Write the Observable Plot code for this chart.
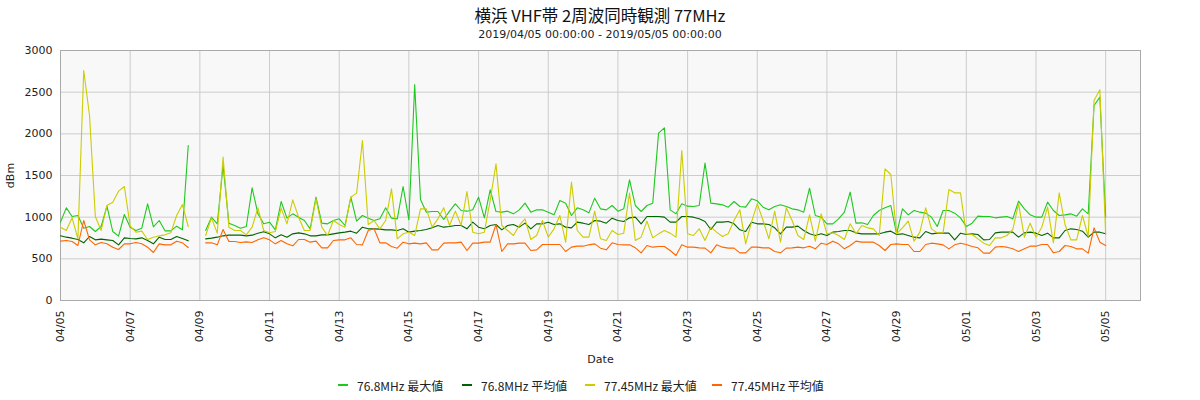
<!DOCTYPE html>
<html>
<head>
<meta charset="utf-8">
<script src="https://cdn.jsdelivr.net/npm/d3@7"></script>
<script src="https://cdn.jsdelivr.net/npm/@observablehq/plot@0.6"></script>
<style>
  html, body { margin: 0; padding: 0; background: #fff; }
  #wrap { position: relative; width: 1200px; height: 400px; overflow: hidden; }
  #title { position: absolute; left: 0; top: 4px; width: 1200px; text-align: center;
    font-family: "Noto Sans CJK JP", sans-serif; font-size: 16.5px; line-height: 22px; color: #111; }
  #subtitle { position: absolute; left: 0; top: 28px; width: 1200px; text-align: center;
    font-family: "DejaVu Sans", sans-serif; font-size: 11px; line-height: 14px; color: #222; }
  #chart { position: absolute; left: 0; top: 45px; }
  #legend { position: absolute; left: 0; top: 370px; width: 1200px; height: 30px; }
  .item { position: absolute; top: 0; height: 30px; display: flex; align-items: center;
    font-family: "Noto Sans CJK JP", sans-serif; font-size: 12px; color: #222; white-space: nowrap; }
  .sw { display: inline-block; width: 10px; height: 2px; margin-right: 9px; }
</style>
</head>
<body>
<div id="wrap">
  <div id="title"></div>
  <div id="subtitle"></div>
  <div id="chart"></div>
  <div id="legend"></div>
</div>
<script>
const titleText = "横浜 VHF帯 2周波同時観測 77MHz";
const subtitleText = "2019/04/05 00:00:00 - 2019/05/05 00:00:00";

// Sampling: every 4 hours starting 2019-04-05 00:00
const startTime = Date.UTC(2019, 3, 5);
const stepHours = 4;

const seriesNames = ["76.8MHz 最大値", "76.8MHz 平均値", "77.45MHz 最大値", "77.45MHz 平均値"];
const seriesColors = ["#1ec81e", "#006400", "#cccc00", "#ff6600"];

const max768 = [940,1112,1008,1020,868,888,828,888,1132,828,772,1032,880,840,868,1160,884,960,836,836,892,848,1860,
  null,null,
  840,1000,920,1620,928,900,868,888,1352,1040,920,940,848,1188,988,1040,1000,960,860,1240,928,920,960,980,900,1240,
  952,1020,988,960,980,1112,988,980,1368,
  968,2590,1212,1060,1068,1068,972,1072,1160,1080,1072,1088,1240,992,1328,1068,1060,1072,1040,1088,1168,1060,1088,1088,1060,1028,1200,1168,1020,1112,1088,
  1052,1228,1100,1088,1140,1072,1100,1448,1140,1068,1140,1168,2008,2072,1088,1040,1160,1132,1128,1140,1648,1168,1160,1148,1120,1188,1128,1120,1220,1196,
  1120,1088,1128,1148,1128,1100,1088,1060,1348,1020,1000,920,920,980,1060,1300,928,932,912,1020,1080,1112,1140,800,1100,1028,1080,1060,1048,1000,
  888,1080,1080,1048,992,888,928,1012,1008,1008,992,1000,1008,980,1192,1100,1028,1000,1000,1180,1080,1020,1028,1040,1012,1100,1040,2340,2440,1000];

const avg768 = [776,760,748,732,692,768,728,736,728,720,668,752,744,740,752,720,680,760,732,732,768,744,716,
  null,null,
  740,748,760,776,784,784,784,776,784,808,824,800,752,788,760,800,812,800,776,776,788,788,800,812,820,832,808,
  880,860,860,856,848,848,840,860,
  820,832,840,852,872,900,880,888,900,900,860,940,880,860,900,912,848,900,912,880,928,860,920,920,940,912,920,880,872,940,928,
  912,960,952,928,988,960,948,992,1000,920,1008,1008,1008,1000,940,940,1008,1008,1000,980,948,852,940,940,948,920,848,828,940,920,
  920,912,872,800,880,880,892,840,800,780,800,780,820,828,840,840,812,800,800,800,800,820,832,792,800,780,760,752,828,800,
  808,808,808,728,808,792,800,792,728,732,812,820,820,820,760,812,820,808,780,808,752,752,840,860,852,832,760,820,820,800];

const max7745 = [880,840,992,740,2760,2220,1008,840,1140,1180,1312,1368,892,820,832,732,760,776,788,812,1020,1152,888,
  null,null,
  780,992,808,1720,880,840,840,788,880,1112,840,812,828,1108,920,1208,1000,840,840,1220,880,780,960,912,880,1240,
  1288,1920,912,960,860,960,1340,740,800,
  820,780,1100,1100,880,980,1112,900,1072,900,1308,820,800,820,1200,1640,900,840,780,900,980,732,780,960,760,860,1020,700,1420,840,760,
  760,1072,740,720,840,792,808,1288,720,760,952,752,800,840,808,760,1800,800,780,860,720,880,820,768,800,960,1088,680,940,1160,
  960,740,1072,700,1112,960,780,732,1028,712,1040,800,812,780,732,920,800,900,872,860,780,1580,1512,800,872,952,712,820,1112,860,
  812,812,1332,1292,1292,800,792,740,688,660,752,752,780,852,1160,760,928,760,880,1120,692,1292,912,728,728,1020,768,2400,2528,792];

const avg7745 = [712,720,708,660,960,728,668,696,680,640,612,680,680,696,680,640,576,680,668,668,712,692,636,
  null,null,
  692,692,668,852,708,708,696,704,696,728,752,728,680,720,680,656,732,732,700,712,632,632,720,728,728,752,672,668,
  840,860,692,692,648,628,700,
  680,688,680,692,608,608,688,692,692,700,600,688,688,700,700,912,588,680,680,688,688,600,608,672,672,672,672,588,640,652,652,
  668,680,628,608,692,672,668,668,632,572,660,640,648,648,600,540,668,640,640,632,628,572,668,640,628,628,572,572,640,640,
  632,632,588,572,628,632,640,632,652,620,688,672,712,680,620,660,712,700,700,700,660,600,672,680,672,672,588,588,672,688,
  680,668,620,668,688,672,648,632,568,568,640,648,640,620,588,620,652,652,672,672,572,588,660,648,620,620,568,872,700,660];

const xTickLabels = ["04/05","04/07","04/09","04/11","04/13","04/15","04/17","04/19","04/21","04/23","04/25","04/27","04/29","05/01","05/03","05/05"];
const yTicks = [0, 500, 1000, 1500, 2000, 2500, 3000];
const xDomainLabels = ["2019-04-05", "2019-05-06"];

const parseDay = s => new Date(s + "T00:00:00Z");
const xTicks = xTickLabels.map(l => {
  const [m, d] = l.split("/").map(Number);
  return new Date(Date.UTC(2019, m - 1, d));
});

const allSeries = [max768, avg768, max7745, avg7745];
const toRows = (arr) => arr.map((v, i) => ({t: new Date(startTime + i * stepHours * 3600e3), v}));

document.getElementById("title").textContent = titleText;
document.getElementById("subtitle").textContent = subtitleText;

const chart = Plot.plot({
  width: 1200,
  height: 325,
  marginTop: 5,
  marginLeft: 60,
  marginRight: 60,
  marginBottom: 70,
  style: {fontFamily: "DejaVu Sans, sans-serif", fontSize: "11px", color: "#222", background: "transparent"},
  x: {
    type: "utc",
    domain: xDomainLabels.map(parseDay),
    ticks: xTicks,
    tickFormat: d3.utcFormat("%m/%d"),
    tickRotate: -90,
    tickSize: 0,
    tickPadding: 10,
    label: "Date",
    labelAnchor: "center",
    labelArrow: "none",
    labelOffset: 62
  },
  y: {
    domain: [0, 3000],
    ticks: yTicks,
    tickFormat: d => String(d),
    tickSize: 0,
    tickPadding: 8,
    label: "dBm",
    labelAnchor: "center",
    labelArrow: "none",
    labelOffset: 54
  },
  marks: [
    Plot.frame({fill: "#f8f8f8", stroke: null}),
    Plot.gridX(xTicks, {stroke: "#cccccc", strokeOpacity: 1}),
    Plot.gridY(yTicks, {stroke: "#cccccc", strokeOpacity: 1}),
    Plot.frame({stroke: "#aaaaaa"}),
    ...allSeries.map((arr, k) => Plot.line(toRows(arr), {x: "t", y: "v", stroke: seriesColors[k], strokeWidth: 1.1}))
  ]
});
document.getElementById("chart").appendChild(chart);

const legendLefts = [338, 462, 585, 712];
const legend = document.getElementById("legend");
seriesNames.forEach((name, k) => {
  const item = document.createElement("div");
  item.className = "item";
  item.style.left = legendLefts[k] + "px";
  const sw = document.createElement("span");
  sw.className = "sw";
  sw.style.background = seriesColors[k];
  item.appendChild(sw);
  item.appendChild(document.createTextNode(name));
  legend.appendChild(item);
});
</script>
</body>
</html>
